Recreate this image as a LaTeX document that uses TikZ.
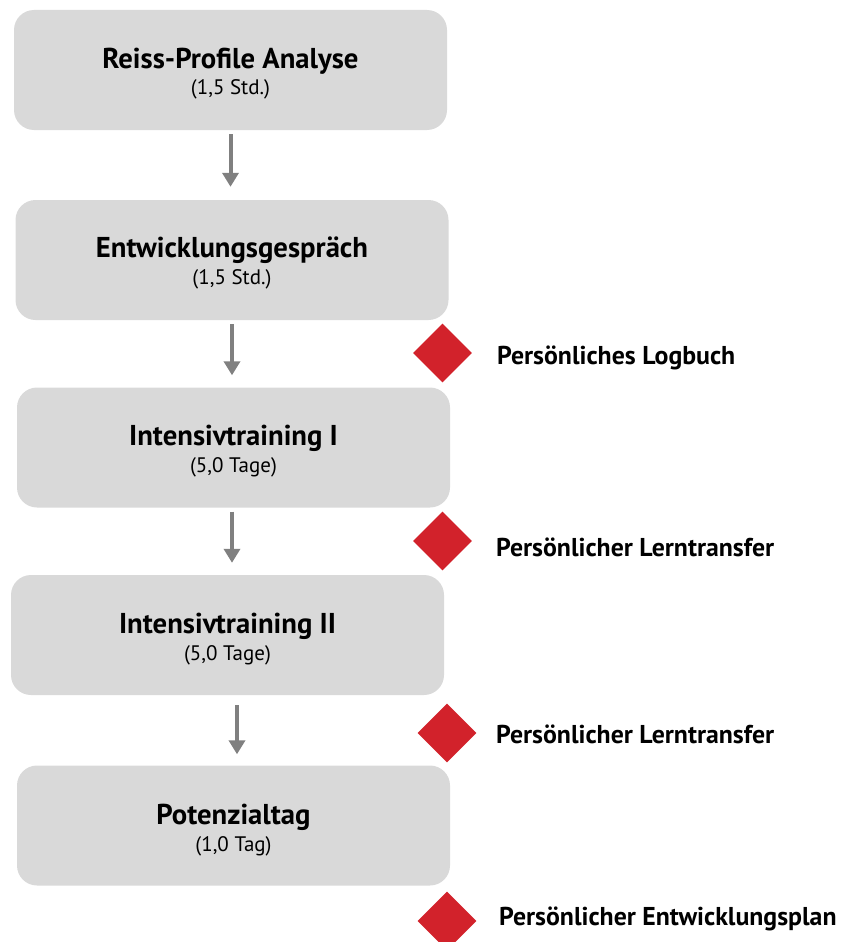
\documentclass[tikz,border=0pt]{standalone}
\usepackage{fontspec}
\setmainfont{PT Sans}
\usetikzlibrary{arrows.meta,shapes.geometric}
\definecolor{boxgray}{HTML}{D9D9D9}
\definecolor{arrowgray}{HTML}{808080}
\definecolor{dred}{HTML}{D2222B}
\begin{document}
\begin{tikzpicture}[x=1pt,y=-1pt,
 stepbox/.style={fill=boxgray, draw=none, rounded corners=20pt, minimum width=433pt, minimum height=120pt, inner sep=0pt},
 ttl/.style={font=\bfseries\fontsize{28.7}{32}\selectfont, inner sep=0pt, anchor=base},
 sub/.style={font=\fontsize{21}{24}\selectfont, inner sep=0pt, anchor=base},
 flow/.style={draw=arrowgray, line width=4pt, -{Triangle[width=16pt,length=14pt]}},
 marker/.style={diamond, fill=dred, minimum width=59pt, minimum height=59pt, inner sep=0pt},
 lbl/.style={font=\bfseries\fontsize{25.8}{29}\selectfont, anchor=base west, inner sep=0pt}]
\useasboundingbox (0,0) rectangle (843,942);

\node[stepbox] (b1) at (230.5,70) {};
\node[stepbox] (b2) at (232,260) {};
\node[stepbox] (b3) at (233.5,447.5) {};
\node[stepbox] (b4) at (227.5,635) {};
\node[stepbox] (b5) at (233.5,825.5) {};

\node[ttl] (t1) at (230.5,68) {Reiss-Profile Analyse};
\node[sub] (s1) at (230.5,95) {(1,5 Std.)};
\node[ttl] (t2) at (232,257) {Entwicklungsgespräch};
\node[sub] (s2) at (232,284) {(1,5 Std.)};
\node[ttl] (t3) at (233.5,445) {Intensivtraining I};
\node[sub] (s3) at (233.5,472) {(5,0 Tage)};
\node[ttl] (t4) at (227.5,633) {Intensivtraining II};
\node[sub] (s4) at (227.5,660) {(5,0 Tage)};
\node[ttl] (t5) at (233.5,824) {Potenzialtag};
\node[sub] (s5) at (233.5,851) {(1,0 Tag)};

\draw[flow, shorten <=4pt, shorten >=13pt] (b1.south) -- (b1.south |- b2.north);
\draw[flow, shorten <=4pt, shorten >=12pt] (b2.south) -- (b2.south |- b3.north);
\draw[flow, shorten <=4pt, shorten >=12pt] ([xshift=-1.5pt]b3.south) -- ([xshift=-1.5pt]b3.south |- b4.north);
\draw[flow, shorten <=10pt, shorten >=11pt] ([xshift=9.5pt]b4.south) -- ([xshift=9.5pt]b4.south |- b5.north);

\node[marker] (m1) at (442.5,353) {};
\node[marker] (m2) at (442.5,541) {};
\node[marker] (m3) at (447,733) {};
\node[marker] (m4) at (447,921) {};

\node[lbl] (l1) at (497,364) {Persönliches Logbuch};
\node[lbl] (l2) at (496,556) {Persönlicher Lerntransfer};
\node[lbl] (l3) at (496,743) {Persönlicher Lerntransfer};
\node[lbl] (l4) at (499,925) {Persönlicher Entwicklungsplan};
\end{tikzpicture}
\end{document}
